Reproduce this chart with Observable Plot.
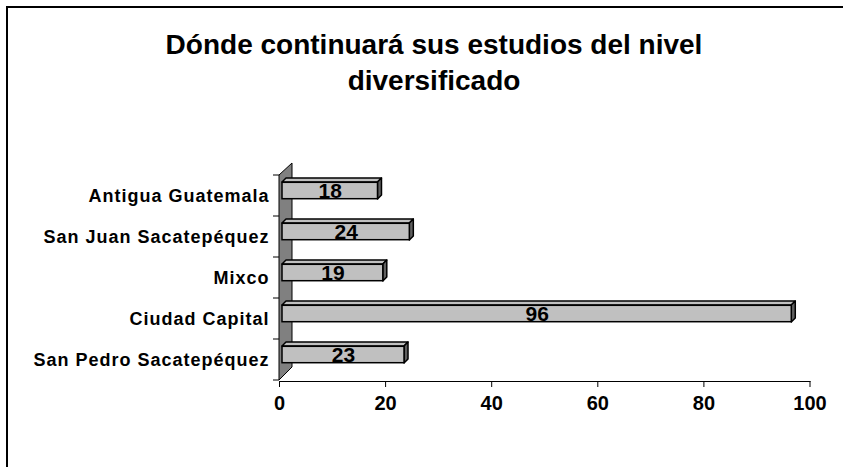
<!DOCTYPE html>
<html>
<head>
<meta charset="utf-8">
<script src="https://cdn.jsdelivr.net/npm/d3@7"></script>
<script src="https://cdn.jsdelivr.net/npm/@observablehq/plot@0.6"></script>
<style>
  html, body { margin: 0; padding: 0; background: #fff; }
  #wrap { position: relative; width: 843px; height: 467px; overflow: hidden; font-family: "Liberation Sans", Arial, sans-serif; }
  #frame { position: absolute; left: 6px; top: 6px; width: 900px; height: 600px; border: 2px solid #000; }
  #title { position: absolute; left: 0; top: 27px; width: 868px; text-align: center; font-weight: bold; font-size: 28px; line-height: 36px; color: #000; }
  #chart { position: absolute; left: 0; top: 0; }
  #chart svg { overflow: visible; }
</style>
</head>
<body>
<div id="wrap">
  <div id="frame"></div>
  <div id="title"></div>
  <div id="chart"></div>
</div>
<script>
// ---- data ----
const categories = ["Antigua Guatemala", "San Juan Sacatepéquez", "Mixco", "Ciudad Capital", "San Pedro Sacatepéquez"];
const values = [18, 24, 19, 96, 23];
const xTicks = [0, 20, 40, 60, 80, 100];
const titleLines = ["Dónde continuará sus estudios del nivel", "diversificado"];

const data = categories.map((c, i) => ({cat: c, value: values[i]}));

document.getElementById("title").innerHTML = titleLines.join("<br>");

// ---- geometry of the pseudo-3D look (pixels) ----
const DX = 3;       // front face shift right
const DY = -5;      // front face shift up
const FRONT_H = 17; // front face height
const DEPTH = 4;    // bar depth offset
const WALL = 13;    // wall depth

const FONT = "Liberation Sans, Arial, sans-serif";

function wallMark(index, scales) {
  const x0 = scales.x(0);
  const yTop = scales.y(categories[0]);
  const yBot = scales.y(categories[categories.length - 1]) + scales.y.bandwidth();
  const g = d3.create("svg:g");
  g.append("path")
    .attr("d", `M${x0},${yBot}L${x0},${yTop}L${x0 + WALL},${yTop - WALL + 1}L${x0 + WALL},${yBot - WALL}Z`)
    .attr("fill", "#808080").attr("stroke", "#000").attr("stroke-width", 1);
  const bounds = categories.map(c => scales.y(c)).concat([yBot]);
  for (const b of bounds) {
    g.append("line").attr("x1", x0 - 6).attr("x2", x0).attr("y1", b).attr("y2", b)
      .attr("stroke", "#000").attr("stroke-width", 1);
  }
  return g.node();
}

function facesMark(index, scales) {
  const g = d3.create("svg:g");
  const bw = scales.y.bandwidth();
  for (const d of data) {
    const x0 = scales.x(0) + DX;
    const x1 = scales.x(d.value) + DX;
    const yt = scales.y(d.cat) + (bw - FRONT_H) / 2 + DY;
    const yb = yt + FRONT_H;
    g.append("path")
      .attr("d", `M${x0},${yt}L${x0 + DEPTH},${yt - DEPTH}L${x1 + DEPTH},${yt - DEPTH}L${x1},${yt}Z`)
      .attr("fill", "#c0c0c0").attr("stroke", "#000").attr("stroke-width", 1.5).attr("stroke-linejoin", "round");
    g.append("path")
      .attr("d", `M${x1},${yt}L${x1 + DEPTH},${yt - DEPTH}L${x1 + DEPTH},${yb - DEPTH}L${x1},${yb}Z`)
      .attr("fill", "#606060").attr("stroke", "#000").attr("stroke-width", 1.5).attr("stroke-linejoin", "round");
  }
  return g.node();
}

const bwEst = (467 - 173 - 86) / categories.length;
const inset = (bwEst - FRONT_H) / 2;

const chart = Plot.plot({
  width: 843,
  height: 467,
  marginLeft: 279,
  marginRight: 33.5,
  marginTop: 173,
  marginBottom: 86,
  style: {background: "transparent", fontFamily: FONT, color: "#000", overflow: "visible"},
  x: {domain: [0, 100], axis: null, label: null},
  y: {domain: categories, axis: null, padding: 0, label: null},
  marks: [
    wallMark,
    facesMark,
    Plot.barX(data, {
      x: "value", y: "cat",
      fill: "#c0c0c0", stroke: "#000", strokeWidth: 1.5,
      insetTop: inset, insetBottom: inset, dx: DX, dy: DY
    }),
    Plot.text(data, {
      x: d => d.value / 2, y: "cat", text: d => String(d.value),
      dx: DX, dy: DY, fontSize: 21, fontWeight: "bold", fill: "#000"
    }),
    Plot.frame({anchor: "bottom", stroke: "#000", strokeWidth: 1}),
    Plot.axisX({
      ticks: xTicks, tickSize: 6, tickPadding: 8, fontSize: 20, fontWeight: "bold",
      tickFormat: d => String(d), stroke: "#000", fill: "#000", label: null
    }),
    Plot.axisY({
      tickSize: 0, tickPadding: 10, fontSize: 18, fontWeight: "bold", fill: "#000", label: null
    })
  ]
});

d3.select(chart).selectAll('[aria-label="y-axis tick label"] text').style("letter-spacing", "1px");
document.getElementById("chart").appendChild(chart);
</script>
</body>
</html>
